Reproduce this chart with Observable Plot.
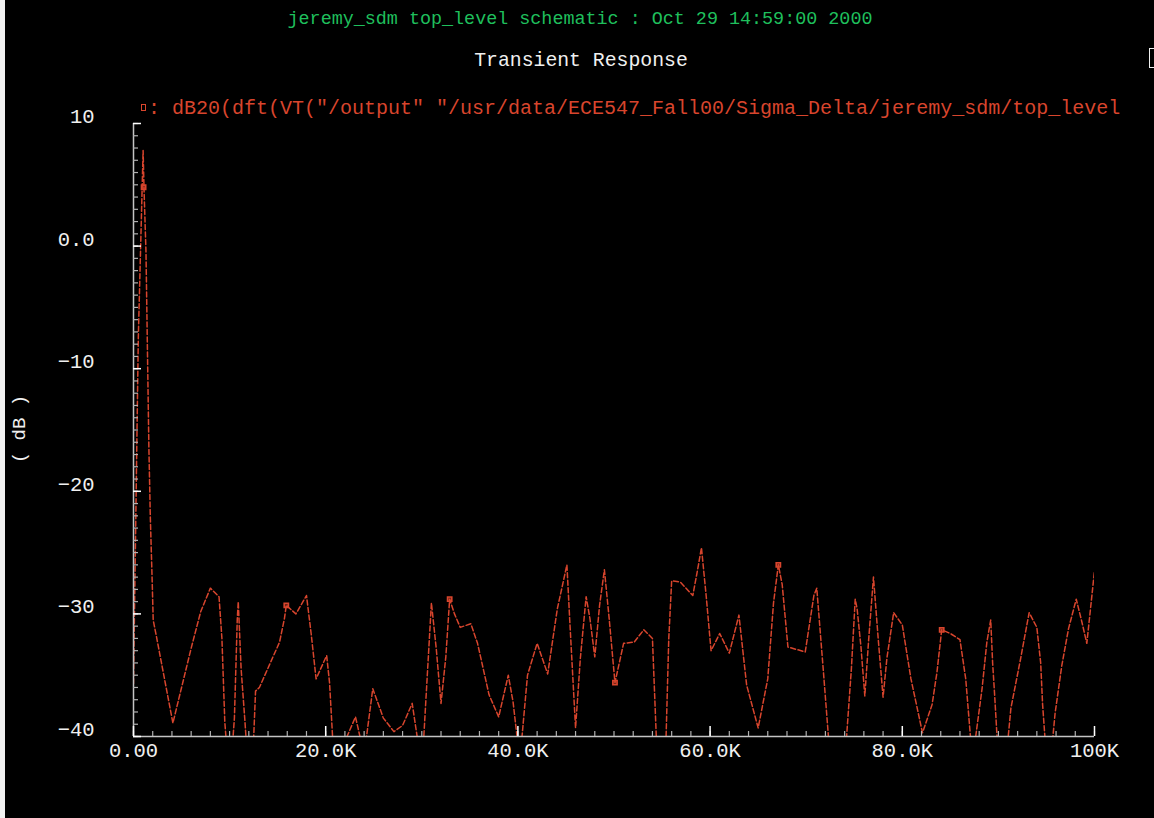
<!DOCTYPE html>
<html>
<head>
<meta charset="utf-8">
<script src="https://cdn.jsdelivr.net/npm/d3@7"></script>
<script src="https://cdn.jsdelivr.net/npm/@observablehq/plot@0.6"></script>
<style>
html,body{margin:0;padding:0;background:#000;}
body{width:1154px;height:818px;position:relative;overflow:hidden;font-family:"Liberation Mono","DejaVu Sans Mono",monospace;}
#edge{position:absolute;left:0;top:0;width:5px;height:818px;background:#f2f2f2;}
.t{position:absolute;white-space:pre;line-height:1;}
#title{left:0;width:1160px;text-align:center;top:11px;color:#1fbf5c;font-size:18.4px;}
#sub{left:0;width:1162px;text-align:center;top:52px;color:#f0f0f0;font-size:19.8px;}
#legend{left:148px;top:99px;color:#d8452d;font-size:20px;}
#swatch{position:absolute;left:141px;top:104px;width:3px;height:5px;border:1.5px solid #d8452d;}
#ylab{left:20px;top:429px;color:#f0f0f0;font-size:19px;transform:translate(-50%,-50%) rotate(-90deg);}
#box{position:absolute;left:1149px;top:48px;width:12px;height:18px;border:1.5px solid #f0f0f0;}
#chart{position:absolute;left:0;top:0;}
</style>
</head>
<body>
<div id="edge"></div>
<div id="chart"></div>
<div class="t" id="title">jeremy_sdm top_level schematic : Oct 29 14:59:00 2000</div>
<div class="t" id="sub">Transient Response</div>
<div id="swatch"></div>
<div class="t" id="legend">: dB20(dft(VT("/output" "/usr/data/ECE547_Fall00/Sigma_Delta/jeremy_sdm/top_level</div>
<div class="t" id="ylab">( dB )</div>
<div id="box"></div>
<script>
// frequency (kHz) and magnitude (dB)
const freqK = [0,0.5,1.0,1.1,1.3,1.4,1.6,1.75,1.95,2.05,2.4,4.1,6.0,7.0,8.0,8.9,9.2,9.5,10.0,10.5,10.8,10.9,11.2,11.6,12.2,12.7,13.1,15.2,15.7,15.9,16.9,18.0,18.5,19.0,20.1,20.4,21.0,22.0,23.1,24.0,24.9,26.0,27.1,28.0,29.0,29.8,30.1,30.5,31.0,31.5,32.0,32.5,32.9,33.4,34.0,35.1,35.8,37.0,38.0,39.0,39.5,40.2,41.0,42.0,43.1,44.1,45.1,45.4,46.0,46.5,47.1,47.5,48.0,48.5,49.0,49.5,50.1,51.0,52.1,53.1,54.0,55.0,55.7,56.0,56.9,58.2,58.7,59.1,59.6,60.1,61.0,62.0,63.0,63.8,65.0,66.0,66.6,67.1,67.5,68.1,69.9,70.8,71.1,71.8,73.3,74.7,75.1,75.3,75.7,76.1,76.5,77.0,77.5,78.0,78.4,79.1,80.0,80.9,82.1,83.1,83.6,84.1,85.0,86.0,86.6,87.3,88.3,88.8,89.2,89.4,89.6,90.3,91.3,92.3,93.2,94.0,94.4,94.6,95.2,95.9,96.6,97.3,98.1,98.7,99.2,99.5,100.0];
const magDB = [-35.7,-7.5,7.8,4.5,-0.5,-5.8,-16.4,-22.1,-27.5,-30.5,-31.9,-38.9,-32.8,-29.8,-27.9,-28.6,-32.0,-38.8,-44,-38.5,-30.4,-29.0,-34.5,-38.8,-46,-36.3,-36.0,-32.3,-30.4,-29.3,-30.0,-28.5,-31.7,-35.3,-33.4,-35.6,-44,-40.4,-38.4,-41.5,-36.1,-38.5,-39.6,-39.1,-37.3,-41.5,-41.5,-36.0,-29.1,-32.8,-37.3,-33.5,-28.8,-30.0,-31.1,-30.8,-32.4,-36.6,-38.4,-35.0,-37.2,-42,-35.0,-32.4,-34.9,-29.6,-26.0,-30.6,-39.3,-33.6,-28.6,-30.4,-33.5,-29.3,-26.4,-30.4,-35.6,-32.4,-32.3,-31.3,-32.0,-52,-32.0,-27.3,-27.4,-28.5,-26.4,-24.6,-28.6,-33.0,-31.6,-33.2,-30.1,-35.8,-39.3,-35.3,-29.1,-26.0,-27.6,-32.7,-33.1,-28.5,-27.9,-34.8,-50,-34.5,-28.8,-29.6,-32.7,-36.7,-32.1,-27.0,-32.1,-36.8,-33.6,-29.9,-30.9,-35.3,-39.7,-37.4,-34.8,-31.3,-31.6,-32.1,-35.3,-42,-36.1,-32.3,-30.5,-34.0,-36.5,-46,-37.7,-33.7,-29.9,-31.1,-34.0,-37.4,-44,-38.1,-34.2,-31.2,-28.8,-30.7,-32.4,-30.2,-26.5];
// marker symbols placed on the trace
const markerFreqK = [1.05,15.9,32.9,50.1,67.1,84.1];
const markerDB = [4.8,-29.3,-28.8,-35.6,-26.0,-31.3];
// axis ticks and labels
const xTickValues = [0,20,40,60,80,100];
const xTickLabels = ["0.00","20.0K","40.0K","60.0K","80.0K","100K"];
const yTickValues = [10,0,-10,-20,-30,-40];
const yTickLabels = ["10","0.0","\u221210","\u221220","\u221230","\u221240"];
const xMinorTicks = d3.range(0, 100.001, 2);
const yMinorTicks = d3.range(-40, 10.001, 1);

const series = freqK.map((f, i) => ({f, db: magDB[i]}));
const markers = markerFreqK.map((f, i) => ({f, db: markerDB[i]}));

const W = 1154, H = 818, mt = 123, mb = 82, ml = 133, mr = 60;
const fw = W - ml - mr, fh = H - mt - mb;
const red = "#d8452d";
const fs = 20.5, ls = 1.1;
const font = "'Liberation Mono', 'DejaVu Sans Mono', monospace";

const svg = Plot.plot({
  width: W, height: H,
  marginTop: mt, marginBottom: mb, marginLeft: ml, marginRight: mr,
  x: {domain: [0, 100], axis: null},
  y: {domain: [-40, 10], axis: null},
  style: {background: "transparent", overflow: "visible", fontFamily: font},
  marks: [
    Plot.line(series, {x: "f", y: "db", stroke: red, strokeWidth: 1.5, strokeDasharray: "5,2.5", clip: true}),
    Plot.dot(markers, {x: "f", y: "db", symbol: "square", r: 2.4, stroke: red, strokeWidth: 1.6, fill: red, fillOpacity: 0.5}),
    Plot.ruleY([-40], {stroke: "#c4c4c4", strokeWidth: 1.5}),
    Plot.ruleX([0], {stroke: "#c4c4c4", strokeWidth: 1.5}),
    Plot.tickX(xMinorTicks, {x: d => d, insetTop: fh - 5, stroke: "#b0b0b0", strokeWidth: 1.2}),
    Plot.tickX(xTickValues, {x: d => d, insetTop: fh - 10, stroke: "#ffffff", strokeWidth: 1.5}),
    Plot.tickY(yMinorTicks, {y: d => d, insetRight: fw - 5, stroke: "#b0b0b0", strokeWidth: 1.2}),
    Plot.tickY(yTickValues, {y: d => d, insetRight: fw - 8, stroke: "#ffffff", strokeWidth: 1.5}),
    Plot.text(yTickValues, {y: d => d, text: (d, i) => yTickLabels[i], frameAnchor: "left", textAnchor: "end", dx: -40 + ls, dy: -7, fill: "#f0f0f0", fontSize: fs, ariaLabel: "ylabels"}),
    Plot.text(xTickValues, {x: d => d, text: (d, i) => xTickLabels[i], frameAnchor: "bottom", textAnchor: "middle", lineAnchor: "middle", dy: 14, fill: "#f0f0f0", fontSize: fs, ariaLabel: "xlabels"})
  ]
});
d3.select(svg).selectAll("g[aria-label=xlabels] text, g[aria-label=ylabels] text").style("letter-spacing", ls + "px");
d3.select(svg).selectAll("g[aria-label=xlabels] text").each(function() {
  const adv = 0.6 * fs + ls;
  const shift = ls / 2 + (/K$/.test(this.textContent) ? adv / 2 : 0);
  d3.select(this).attr("dx", shift);
});
document.getElementById("chart").appendChild(svg);
</script>
</body>
</html>
